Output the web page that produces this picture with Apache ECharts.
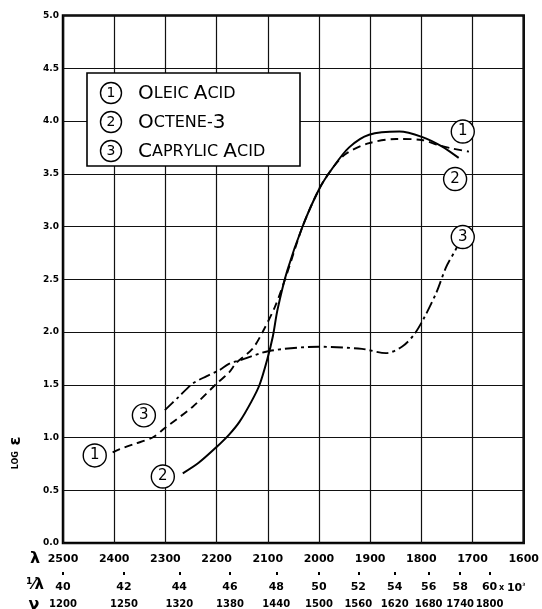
<!DOCTYPE html>
<html><head><meta charset="utf-8">
<script src="https://cdn.jsdelivr.net/npm/echarts@6/dist/echarts.min.js"></script>
<style>html,body{margin:0;padding:0;background:#fff}#c{width:542px;height:609px}</style>
</head><body><div id="c"></div>
<script>
// wavelength in Å (x), log ε (y)
const oleicAcid = [[2403,0.86],[2389,0.89],[2360,0.94],[2325,1.0],[2301,1.09],[2247,1.29],[2200,1.51],[2175,1.62],[2161,1.71],[2130,1.84],[2110,2.0],[2085,2.25],[2062,2.56],[2032,3.0],[1999,3.36],[1974,3.55],[1947,3.69],[1902,3.79],[1849,3.83],[1799,3.82],[1766,3.77],[1740,3.74],[1707,3.71]];
const octene3 = [[2266,0.66],[2235,0.76],[2200,0.91],[2175,1.03],[2155,1.15],[2132,1.34],[2116,1.50],[2101,1.74],[2090,1.96],[2081,2.21],[2062,2.58],[2032,3.0],[1999,3.36],[1974,3.55],[1941,3.75],[1902,3.87],[1843,3.90],[1799,3.85],[1760,3.76],[1727,3.65]];
const caprylicAcid = [[2301,1.26],[2275,1.38],[2247,1.51],[2220,1.58],[2194,1.64],[2175,1.70],[2155,1.73],[2097,1.82],[2000,1.86],[1916,1.84],[1869,1.80],[1838,1.86],[1815,1.97],[1795,2.13],[1770,2.38],[1752,2.61],[1733,2.78],[1727,2.84]];
const invLambdaLabels = [40,42,44,46,48,50,52,54,56,58,60];
const nuLabels = [1200,1250,1320,1380,1440,1500,1560,1620,1680,1740,1800];
const curveTags = [[1719,3.90,'1'],[1734,3.45,'2'],[1719,2.90,'3'],[2342,1.21,'3'],[2438,0.83,'1'],[2305,0.63,'2']];
const legendNames = ['Oleic Acid','Octene-3','Caprylic Acid'];

const invLambdaPos = invLambdaLabels.map(k => 1e5 / k);
function idxOf(v){ let b=0,d=1e9; invLambdaPos.forEach((p,i)=>{const e=Math.abs(p-v); if(e<d){d=e;b=i;}}); return b; }

const F = 'DejaVu Sans';
const lab = {fontFamily:F, fontWeight:'bold', fontSize:11, color:'#000'};

function smallCaps(s){
  return s.split(' ').map(w => {
    let out = '';
    for (let i=0;i<w.length;i++){
      const ch = w[i];
      const big = i===0 || /[0-9]/.test(ch);
      out += big ? '{b|'+ch.toUpperCase()+'}' : '{s|'+ch.toUpperCase()+'}';
    }
    return out;
  }).join('{s| }');
}

const chart = echarts.init(document.getElementById('c'), null, {renderer:'canvas'});
const gridTop = 15.5, gridBottom = 66, gridLeft = 63, gridRight = 17;

const legendRows = [93,122,151];
const legendGraphics = [{type:'rect', shape:{x:87,y:73,width:213,height:93}, style:{fill:'#fff',stroke:'#000',lineWidth:1.6}, z:10}];
legendNames.forEach((n,i)=>{
  legendGraphics.push({type:'circle', shape:{cx:111,cy:legendRows[i],r:10.5}, style:{fill:'#fff',stroke:'#000',lineWidth:1.4}, z:11});
  legendGraphics.push({type:'text', x:111, y:legendRows[i]+0.5, style:{text:String(i+1), font:'14px '+F, fill:'#000', align:'center', verticalAlign:'middle'}, z:12});
  legendGraphics.push({type:'text', x:138, y:legendRows[i]+1, style:{text:smallCaps(n), align:'left', verticalAlign:'middle',
    rich:{b:{fontFamily:F,fontSize:20,fill:'#000',color:'#000'}, s:{fontFamily:F,fontSize:16,fill:'#000',color:'#000'}}}, z:12});
});

const option = {
  backgroundColor:'#fff',
  animation:false,
  grid:{left:gridLeft, right:gridRight, top:gridTop, bottom:gridBottom, show:true, borderColor:'#000', borderWidth:2.5, backgroundColor:'transparent'},
  xAxis:[
    {type:'value', min:1600, max:2500, interval:100, inverse:true, position:'bottom',
     axisLine:{show:false}, axisTick:{show:false},
     splitLine:{show:true, lineStyle:{color:'#111', width:1.2}},
     axisLabel:Object.assign({margin:11, showMinLabel:true, showMaxLabel:true, formatter:v=>String(v)}, lab)},
    {type:'value', min:1600, max:2500, inverse:true, position:'bottom', offset:29,
     axisLine:{show:false}, splitLine:{show:false},
     axisTick:{show:true, customValues:invLambdaPos, length:3, lineStyle:{color:'#000', width:2}},
     axisLabel:Object.assign({margin:10, showMinLabel:true, showMaxLabel:true, customValues:invLambdaPos, formatter:v=>String(invLambdaLabels[idxOf(v)])}, lab)},
    {type:'value', min:1600, max:2500, inverse:true, position:'bottom', offset:50,
     axisLine:{show:false}, splitLine:{show:false}, axisTick:{show:false},
     axisLabel:Object.assign({}, lab, {margin:6, fontSize:10, showMinLabel:true, showMaxLabel:true, hideOverlap:false, customValues:invLambdaPos, formatter:v=>String(nuLabels[idxOf(v)])})}
  ],
  yAxis:{type:'value', min:0, max:5, interval:0.5,
    axisLine:{show:false}, axisTick:{show:false},
    splitLine:{show:true, lineStyle:{color:'#111', width:1.2}},
    axisLabel:{margin:4, fontFamily:F, fontWeight:'bold', fontSize:9, color:'#000', formatter:v=>v.toFixed(1)}},
  series:[
    {name:'Oleic Acid', type:'line', data:oleicAcid, smooth:0.3, showSymbol:false, z:3,
     lineStyle:{color:'#000', width:1.9, type:[8,5]}},
    {name:'Octene-3', type:'line', data:octene3, smooth:0.3, showSymbol:false, z:3,
     lineStyle:{color:'#000', width:2, type:'solid'}},
    {name:'Caprylic Acid', type:'line', data:caprylicAcid, smooth:0.3, showSymbol:false, z:3,
     lineStyle:{color:'#000', width:1.9, type:[12,4,3,4]}},
    {name:'tags', type:'scatter', data:curveTags, symbol:'circle', symbolSize:23, z:5,
     itemStyle:{color:'#fff', borderColor:'#000', borderWidth:1.4, opacity:1},
     label:{show:true, position:'inside', formatter:p=>p.data[2], fontFamily:F, fontSize:15, color:'#000'}}
  ],
  graphic:[
    ...legendGraphics,
    {type:'text', x:16, y:453, rotation:Math.PI/2, style:{text:'{s|LOG}{s|  }{e|ε}', align:'center', verticalAlign:'middle',
      rich:{s:{fontFamily:F, fontWeight:'bold', fontSize:8, fill:'#000', color:'#000'}, e:{fontFamily:F, fontWeight:'bold', fontSize:16, fill:'#000', color:'#000'}}}},
    {type:'text', x:35, y:559, style:{text:'λ', font:'bold 16px '+F, fill:'#000', align:'center', verticalAlign:'middle'}},
    {type:'text', x:35, y:585, style:{text:'{a|1}{b|⁄}{c|λ}', align:'center', verticalAlign:'middle',
      rich:{a:{fontFamily:F,fontWeight:'bold',fontSize:9,verticalAlign:'top',fill:'#000',color:'#000'}, b:{fontFamily:F,fontWeight:'bold',fontSize:14,fill:'#000',color:'#000'}, c:{fontFamily:F,fontWeight:'bold',fontSize:15,fill:'#000',color:'#000'}}}},
    {type:'text', x:34, y:605, style:{text:'ν', font:'bold 16px '+F, fill:'#000', align:'center', verticalAlign:'middle'}},
    {type:'text', x:499, y:588, style:{text:'{x|x }{n|10}{p|³}', align:'left', verticalAlign:'middle',
      rich:{x:{fontFamily:F,fontWeight:'bold',fontSize:8,fill:'#000',color:'#000'}, n:{fontFamily:F,fontWeight:'bold',fontSize:11,fill:'#000',color:'#000'}, p:{fontFamily:F,fontWeight:'bold',fontSize:7,verticalAlign:'top',fill:'#000',color:'#000'}}}}
  ]
};
chart.setOption(option);
</script>
</body></html>
